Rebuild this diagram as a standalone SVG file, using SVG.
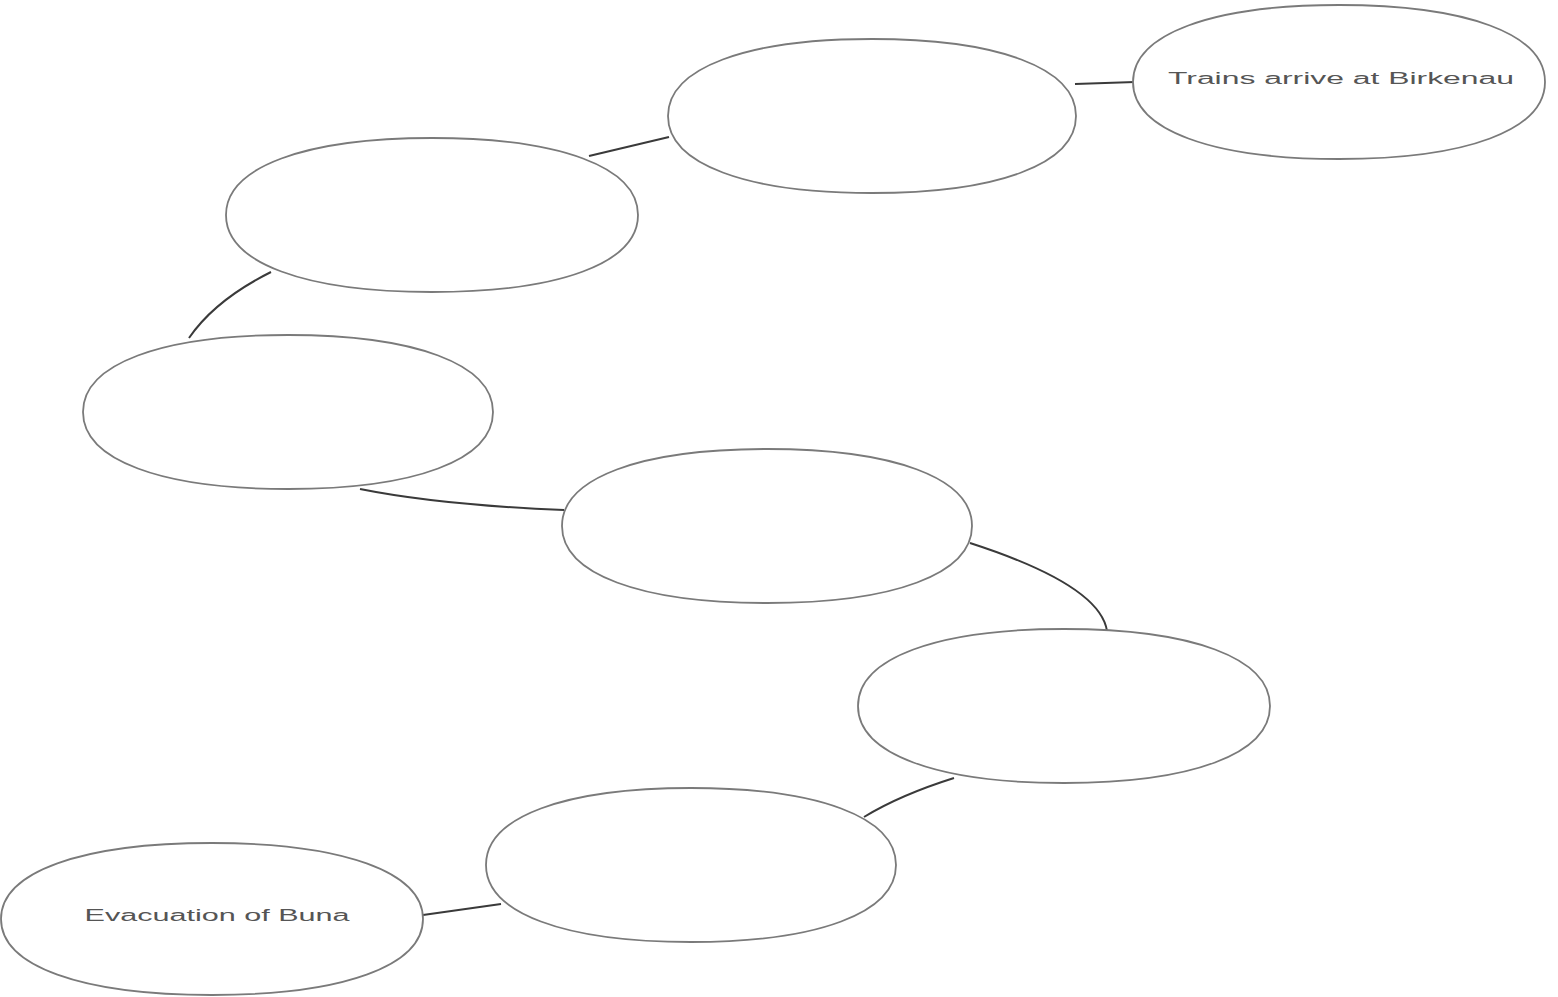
<svg xmlns="http://www.w3.org/2000/svg" width="1558" height="997" viewBox="0 0 1558 997">
<style>
.node{fill:#fff;stroke:#7a7a7a;stroke-width:1.8}
.conn{fill:none;stroke:#3a3a3a;stroke-width:2}
.lbl{font-family:"Liberation Sans",Arial,sans-serif;font-size:16px;fill:#555;text-anchor:middle}
</style>
<rect width="1558" height="997" fill="#fff"/>
<g id="connectors">
<path class="conn" d="M1075,84 L1135,82"/>
<path class="conn" d="M589,156 L669,137"/>
<path class="conn" d="M271,272 Q215,300 189,338"/>
<path class="conn" d="M360,489 Q440,505 564,510"/>
<path class="conn" d="M970,543 Q1100,585 1107,631"/>
<path class="conn" d="M954,778 Q900,795 864,817"/>
<path class="conn" d="M423,915 L501,904"/>
</g>
<g id="n1"><path class="node" d="M1133,82 c0,-48 79,-77 206,-77 c128,0 206,29 206,77 c0,48 -78,77 -206,77 c-127,0 -206,-29 -206,-77z"/><text class="lbl" x="1341" y="84" textLength="346" lengthAdjust="spacingAndGlyphs">Trains arrive at Birkenau</text></g>
<g id="n2"><path class="node" d="M668,116 c0,-48 78,-77 204,-77 c126,0 204,29 204,77 c0,48 -78,77 -204,77 c-126,0 -204,-29 -204,-77z"/></g>
<g id="n3"><path class="node" d="M226,215 c0,-48 79,-77 206,-77 c128,0 206,29 206,77 c0,48 -78,77 -206,77 c-127,0 -206,-29 -206,-77z"/></g>
<g id="n4"><path class="node" d="M83,412 c0,-48 78,-77 205,-77 c127,0 205,29 205,77 c0,48 -78,77 -205,77 c-127,0 -205,-29 -205,-77z"/></g>
<g id="n5"><path class="node" d="M562,526 c0,-48 78,-77 205,-77 c127,0 205,29 205,77 c0,48 -78,77 -205,77 c-127,0 -205,-29 -205,-77z"/></g>
<g id="n6"><path class="node" d="M858,706 c0,-48 79,-77 206,-77 c128,0 206,29 206,77 c0,48 -78,77 -206,77 c-127,0 -206,-29 -206,-77z"/></g>
<g id="n7"><path class="node" d="M486,865 c0,-48 78,-77 205,-77 c127,0 205,29 205,77 c0,48 -78,77 -205,77 c-127,0 -205,-29 -205,-77z"/></g>
<g id="n8"><path class="node" d="M1,919 c0,-47 80,-76 211,-76 c131,0 211,29 211,76 c0,47 -80,76 -211,76 c-131,0 -211,-29 -211,-76z"/><text class="lbl" x="217" y="921" textLength="265" lengthAdjust="spacingAndGlyphs">Evacuation of Buna</text></g>
</svg>
